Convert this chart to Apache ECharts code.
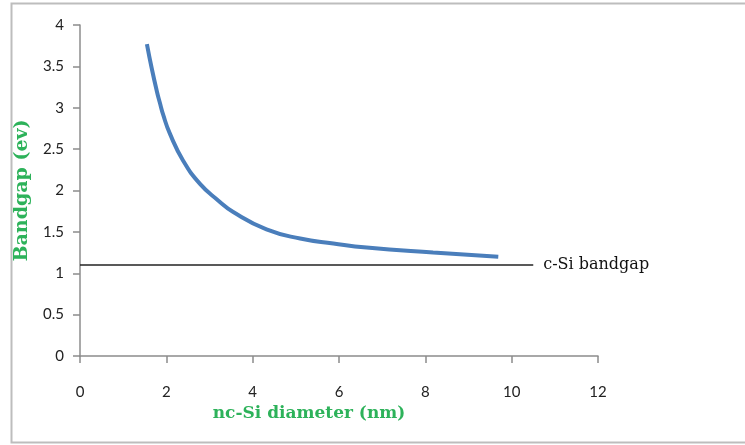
<!DOCTYPE html>
<html>
<head>
<meta charset="utf-8">
<script src="https://cdn.jsdelivr.net/npm/echarts@6/dist/echarts.min.js"></script>
<style>
  html, body { margin: 0; padding: 0; background: #fff; }
  #chart { width: 745px; height: 445px; }
</style>
</head>
<body>
<div id="chart"></div>
<script>
  // 数据：nc-Si 直径 (nm) 与带隙 (eV)
  const diameters = [1.55, 1.66, 1.78, 1.85, 1.93, 2.08, 2.39, 2.78, 3.20, 3.55, 4.32, 5.10, 5.87, 6.64, 8.18, 9.69]
  const bandgaps = [3.77, 3.48, 3.20, 3.06, 2.91, 2.69, 2.36, 2.08, 1.88, 1.74, 1.53, 1.42, 1.36, 1.31, 1.25, 1.20]
  // c-Si 带隙参考线
  const cSiRange = [0, 10.5]
  const cSiGap = 1.1
  const cSiLabel = 'c-Si bandgap'

  const green = '#2db25a'
  const axisGray = '#8c8c8c'

  const chart = echarts.init(document.getElementById('chart'))

  const option = {
    animation: false,
    // 外框
    graphic: [{
      type: 'rect',
      shape: { x: 11.5, y: 3.5, width: 760, height: 439 },
      style: { fill: 'none', stroke: '#bdbdbd', lineWidth: 2 },
      silent: true
    }],
    grid: { left: 80, right: 147, top: 25, bottom: 89 },
    xAxis: {
      type: 'value',
      min: 0,
      max: 12,
      interval: 2,
      name: 'nc-Si diameter (nm)',
      nameLocation: 'middle',
      nameGap: 45,
      nameTextStyle: {
        color: green,
        fontFamily: 'DejaVu Serif',
        fontWeight: 'bold',
        fontSize: 17,
        padding: [0, 60, 0, 0]
      },
      axisLine: { onZero: false, lineStyle: { color: axisGray, width: 1.5 } },
      axisTick: { length: 7, lineStyle: { color: axisGray, width: 1.5 } },
      axisLabel: { margin: 29, color: '#222', fontFamily: 'Lato', fontSize: 15 },
      splitLine: { show: false }
    },
    yAxis: {
      type: 'value',
      min: 0,
      max: 4,
      interval: 0.5,
      name: 'Bandgap (ev)',
      nameLocation: 'middle',
      nameGap: 48,
      nameTextStyle: {
        color: green,
        fontFamily: 'DejaVu Serif',
        fontWeight: 'bold',
        fontSize: 19
      },
      axisLine: { show: true, lineStyle: { color: axisGray, width: 1.5 } },
      axisTick: { show: true, length: 7, lineStyle: { color: axisGray, width: 1.5 } },
      axisLabel: { margin: 16, color: '#222', fontFamily: 'Lato', fontSize: 15 },
      splitLine: { show: false }
    },
    series: [
      {
        // 带隙曲线
        type: 'line',
        smooth: true,
        showSymbol: false,
        lineStyle: { color: '#4a7ebb', width: 4 },
        data: diameters.map((d, i) => [d, bandgaps[i]]),
        z: 3
      },
      {
        // c-Si 参考线
        type: 'line',
        showSymbol: false,
        lineStyle: { color: '#222', width: 1.5 },
        data: cSiRange.map((d) => [d, cSiGap]),
        endLabel: {
          show: true,
          formatter: cSiLabel,
          distance: 10,
          color: '#111',
          fontFamily: 'DejaVu Serif',
          fontSize: 16
        },
        z: 2
      }
    ]
  }

  chart.setOption(option)
</script>
</body>
</html>
